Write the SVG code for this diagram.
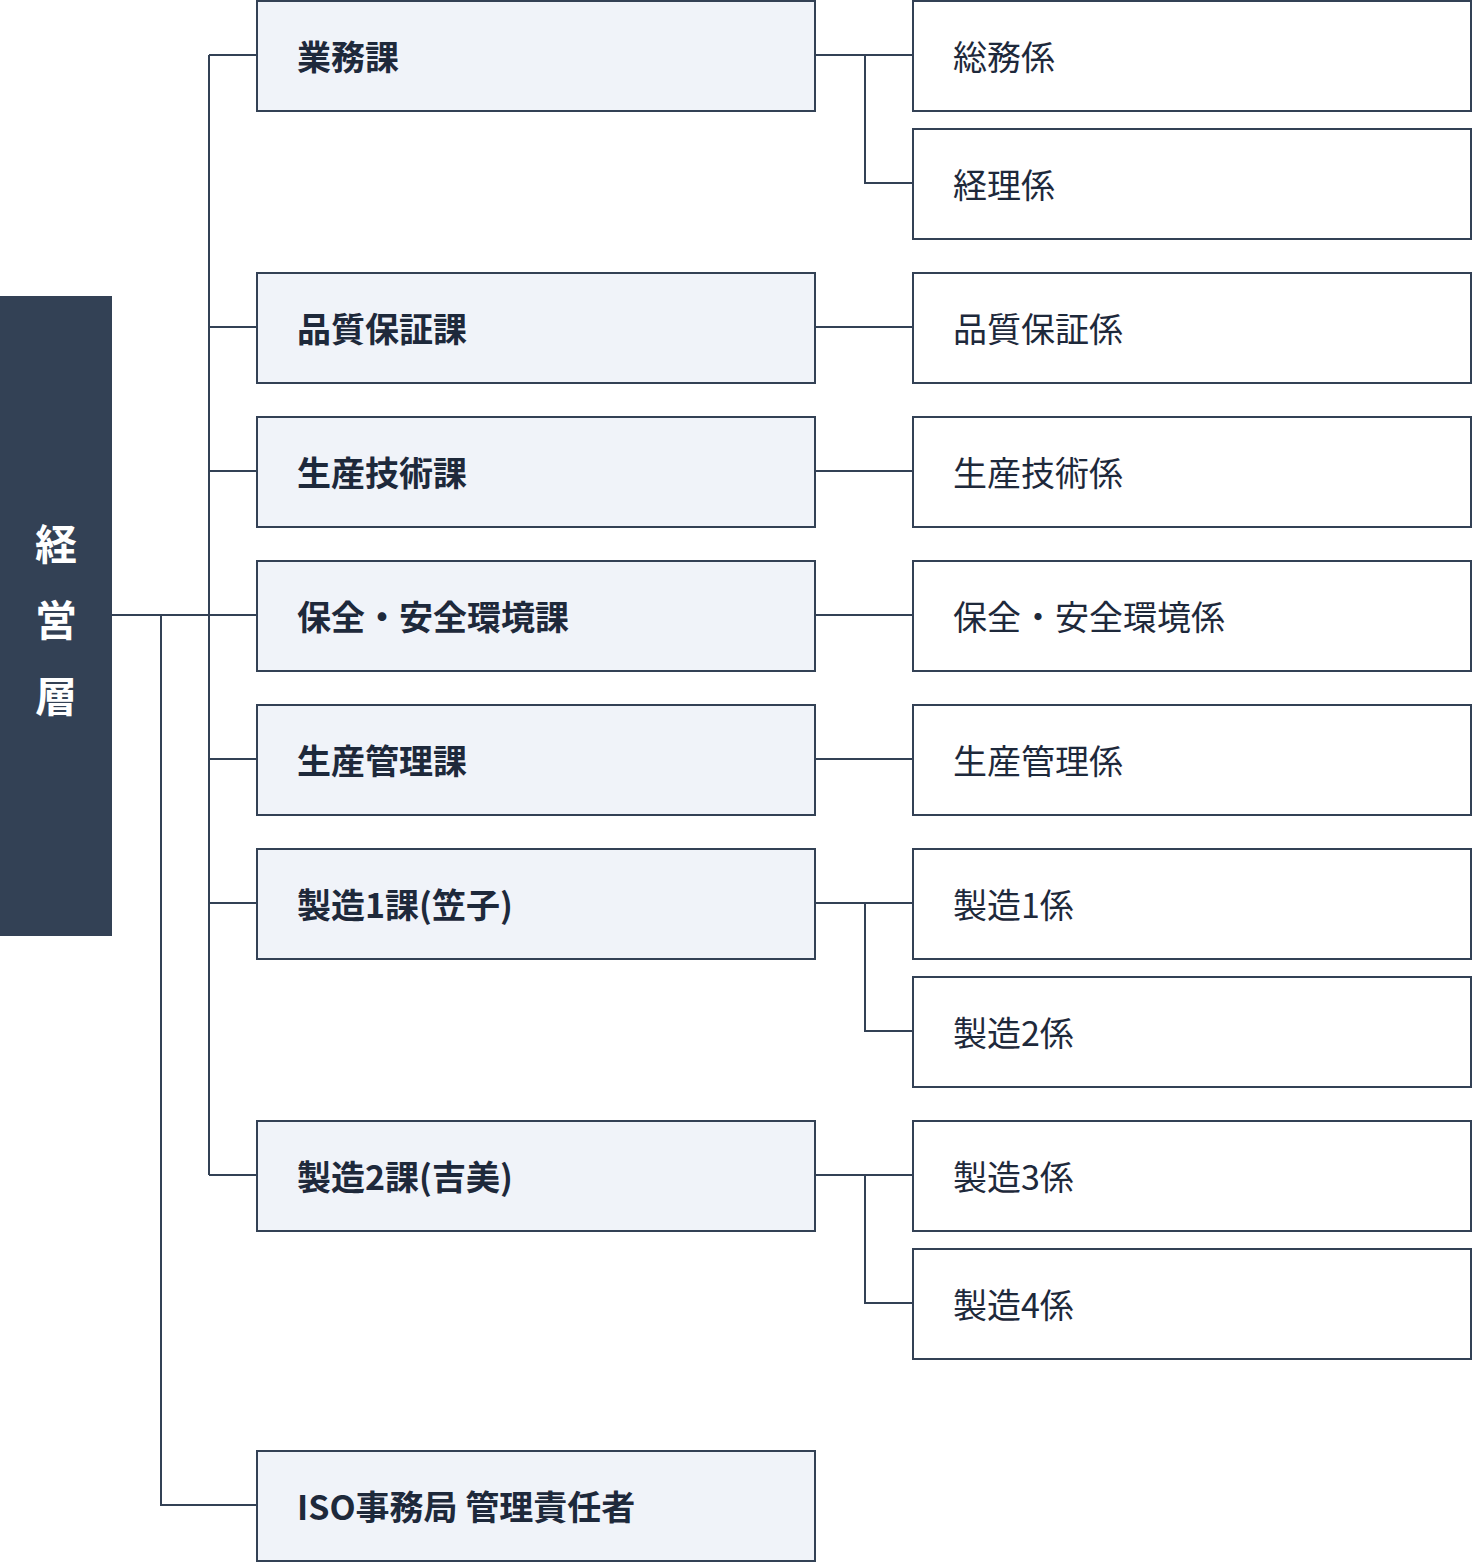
<svg xmlns="http://www.w3.org/2000/svg" width="1472" height="1562" viewBox="0 0 1472 1562">
<style>
.m{fill:#f0f3f9;stroke:#334155;stroke-width:2}
.r{fill:#fff;stroke:#334155;stroke-width:2}
.tm{font-family:"Noto Sans CJK JP","Noto Sans",sans-serif;font-size:34px;font-weight:700;fill:#1e293b}
.tr{font-family:"Noto Sans CJK JP","Noto Sans",sans-serif;font-size:34px;fill:#1e293b}
.c{fill:none;stroke:#334155;stroke-width:2}
</style>
<rect width="1472" height="1562" fill="#fff"/>
<g id="top"><rect x="0" y="296" width="112" height="640" fill="#334155"/>
<text font-family="Noto Sans CJK JP,sans-serif" font-size="42" font-weight="700" fill="#fff" text-anchor="middle"><tspan x="56" y="560">経</tspan><tspan x="56" y="636">営</tspan><tspan x="56" y="712">層</tspan></text></g>
<g id="connectors">
<path class="c" d="M112 615H257M209 55V1175M161 615V1505H257M209 55H257M209 327H257M209 471H257M209 759H257M209 903H257M209 1175H257"/>
<path class="c" d="M815 55H913M865 55V183H913M815 327H913M815 471H913M815 615H913M815 759H913M815 903H913M865 903V1031H913M815 1175H913M865 1175V1303H913"/>
</g>
<g id="n1"><rect class="m" x="257" y="1" width="558" height="110"/><text class="tm" x="297" y="70">業務課</text></g>
<g id="n2"><rect class="m" x="257" y="273" width="558" height="110"/><text class="tm" x="297" y="342">品質保証課</text></g>
<g id="n3"><rect class="m" x="257" y="417" width="558" height="110"/><text class="tm" x="297" y="486">生産技術課</text></g>
<g id="n4"><rect class="m" x="257" y="561" width="558" height="110"/><text class="tm" x="297" y="630">保全・安全環境課</text></g>
<g id="n5"><rect class="m" x="257" y="705" width="558" height="110"/><text class="tm" x="297" y="774">生産管理課</text></g>
<g id="n6"><rect class="m" x="257" y="849" width="558" height="110"/><text class="tm" x="297" y="918">製造1課(笠子)</text></g>
<g id="n7"><rect class="m" x="257" y="1121" width="558" height="110"/><text class="tm" x="297" y="1190">製造2課(吉美)</text></g>
<g id="n8"><rect class="m" x="257" y="1451" width="558" height="110"/><text class="tm" x="297" y="1520">ISO事務局 管理責任者</text></g>
<g id="r1"><rect class="r" x="913" y="1" width="558" height="110"/><text class="tr" x="953" y="70">総務係</text></g>
<g id="r2"><rect class="r" x="913" y="129" width="558" height="110"/><text class="tr" x="953" y="198">経理係</text></g>
<g id="r3"><rect class="r" x="913" y="273" width="558" height="110"/><text class="tr" x="953" y="342">品質保証係</text></g>
<g id="r4"><rect class="r" x="913" y="417" width="558" height="110"/><text class="tr" x="953" y="486">生産技術係</text></g>
<g id="r5"><rect class="r" x="913" y="561" width="558" height="110"/><text class="tr" x="953" y="630">保全・安全環境係</text></g>
<g id="r6"><rect class="r" x="913" y="705" width="558" height="110"/><text class="tr" x="953" y="774">生産管理係</text></g>
<g id="r7"><rect class="r" x="913" y="849" width="558" height="110"/><text class="tr" x="953" y="918">製造1係</text></g>
<g id="r8"><rect class="r" x="913" y="977" width="558" height="110"/><text class="tr" x="953" y="1046">製造2係</text></g>
<g id="r9"><rect class="r" x="913" y="1121" width="558" height="110"/><text class="tr" x="953" y="1190">製造3係</text></g>
<g id="r10"><rect class="r" x="913" y="1249" width="558" height="110"/><text class="tr" x="953" y="1318">製造4係</text></g>
</svg>
